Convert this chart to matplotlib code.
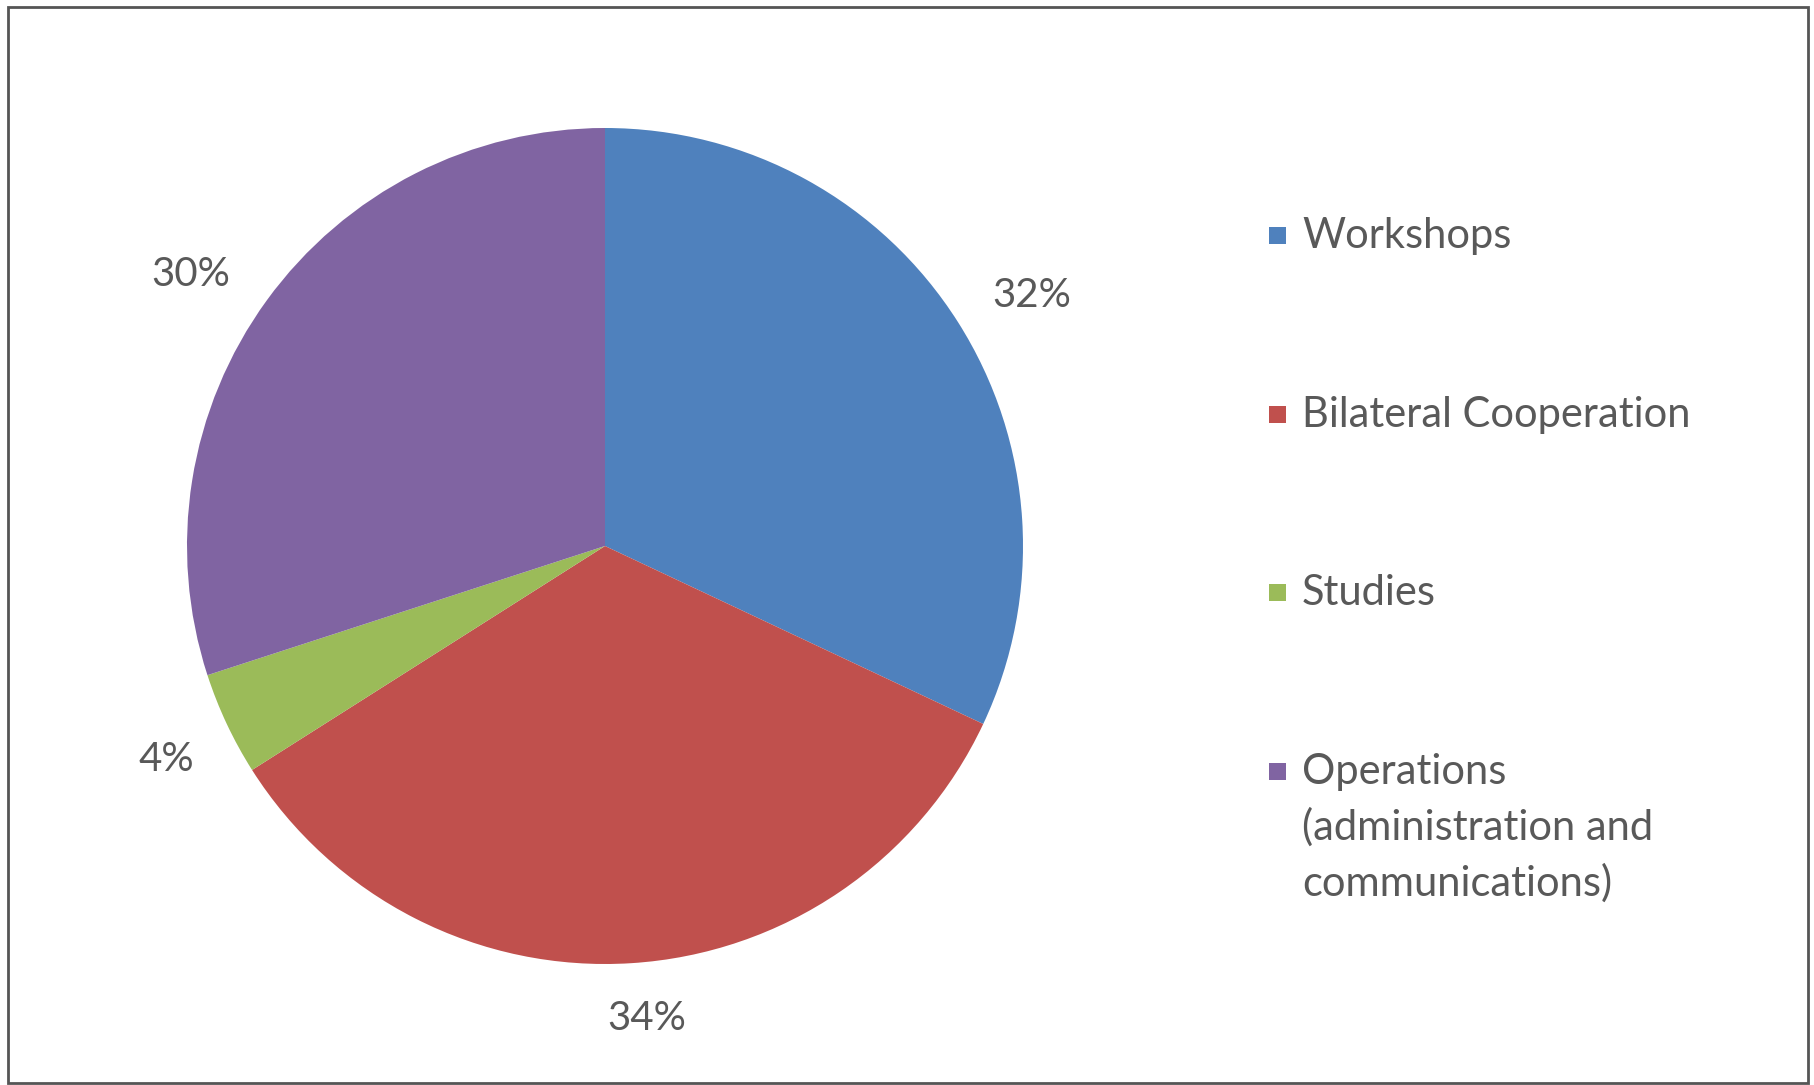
import matplotlib
matplotlib.use('Agg')
import matplotlib.pyplot as plt
from matplotlib.patches import Rectangle

categories = ['Workshops', 'Bilateral Cooperation', 'Studies',
              'Operations\n(administration and\ncommunications)']
shares = [32, 34, 4, 30]
colors = ['#4F81BD', '#C0504D', '#9BBB59', '#8064A2']
text_color = '#595959'

plt.rcParams['font.family'] = ['Lato', 'DejaVu Sans']

fig = plt.figure(figsize=(18.14, 10.85), dpi=100)

# outer frame
fig.patches.append(Rectangle((8 / 1814, 2 / 1085), 1800 / 1814, 1076 / 1085,
                             transform=fig.transFigure, fill=False,
                             edgecolor='#555555', linewidth=2))

# pie axes: centre (605, 546) px, radius 418 px
ax = fig.add_axes([187 / 1814, 121 / 1085, 836 / 1814, 836 / 1085])
wedges, texts, autotexts = ax.pie(
    shares, colors=colors, startangle=90, counterclock=False,
    autopct='%d%%', pctdistance=1.18,
    wedgeprops=dict(linewidth=0),
    textprops=dict(color=text_color, fontsize=29))

# excel "best fit" places the labels a little off the wedge mid-line
label_pos = [(1.02, 0.60), (0.10, -1.13), (-1.05, -0.51), (-0.99, 0.65)]
for t, p in zip(autotexts, label_pos):
    t.set_position(p)

ax.set_xlim(-1, 1)
ax.set_ylim(-1, 1)
ax.set_aspect('equal')
ax.axis('off')

# legend drawn by hand so the square sits on the first line
row_y = [236, 415, 593, 772]
for lab, col, y in zip(categories, colors, row_y):
    fig.patches.append(Rectangle(((1277 - 8) / 1814, 1 - (y + 8) / 1085),
                                 17 / 1814, 17 / 1085,
                                 transform=fig.transFigure,
                                 facecolor=col, edgecolor='none'))
    fig.text(1302 / 1814, 1 - (y - 19) / 1085, lab, color=text_color,
             fontsize=30, va='top', ha='left', linespacing=1.5)

fig.savefig('out.png', dpi=100)
